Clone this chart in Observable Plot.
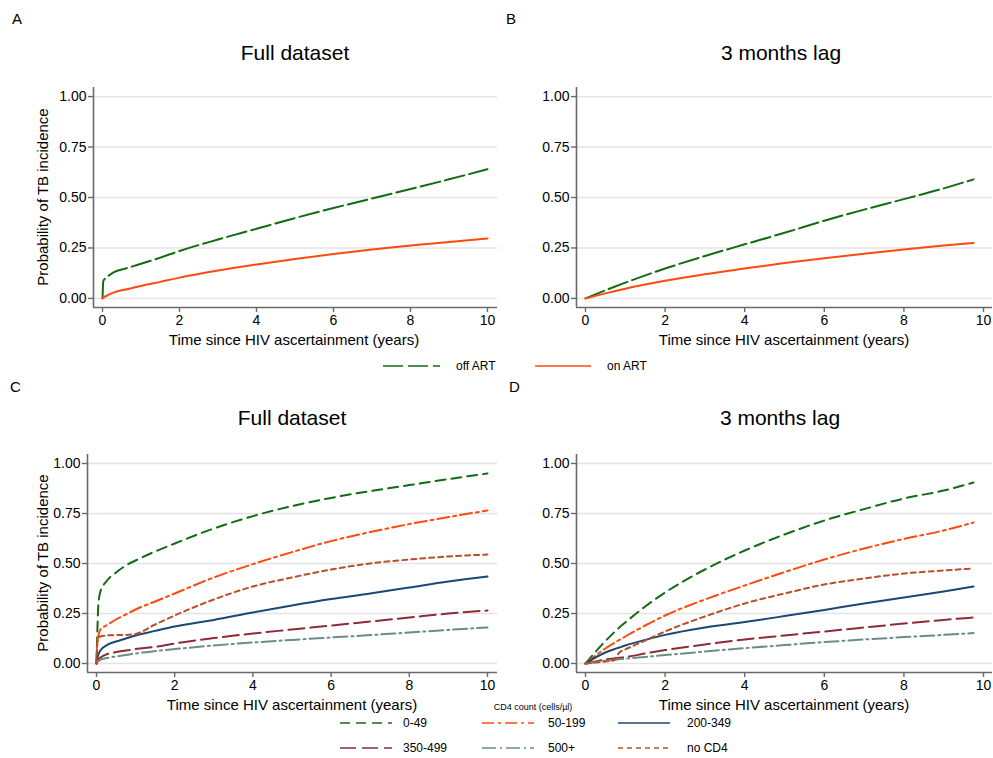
<!DOCTYPE html>
<html><head><meta charset="utf-8">
<script src="https://cdn.jsdelivr.net/npm/d3@7"></script>
<script src="https://cdn.jsdelivr.net/npm/@observablehq/plot@0.6"></script>
<style>
body{margin:0;background:#fff;font-family:"Liberation Sans",Arial,sans-serif;}
#wrap{position:relative;width:993px;height:758px;overflow:hidden;background:#fff;}
.abs{position:absolute;white-space:nowrap;line-height:1;color:#000;}
.title{font-size:21px;transform:translate(-50%,-50%);}
.letter{font-size:15px;}
.xl{font-size:15px;transform:translate(-50%,-50%);}
.yl{font-size:15px;transform:translate(-50%,-50%) rotate(-90deg);}
svg{overflow:visible;}
</style></head><body><div id="wrap"></div>
<script>
// ---------- data ----------
const yTicks = [0, 0.25, 0.5, 0.75, 1];
const xTicks = [0, 2, 4, 6, 8, 10];
const panelLetters = ["A", "B", "C", "D"];
const panelTitles = ["Full dataset", "3 months lag", "Full dataset", "3 months lag"];
const xLabel = "Time since HIV ascertainment (years)";
const yLabel = "Probability of TB incidence";
const artLabels = ["off ART", "on ART"];
const cd4Labels = ["0-49", "50-199", "200-349", "350-499", "500+", "no CD4"];
const cd4Title = "CD4 count (cells/µl)";

// Panel A: full dataset, ART
const timeA  = [0, 0.02, 0.05, 0.1, 0.2, 0.3, 0.6, 1, 1.5, 2, 3, 4, 5, 6, 7, 8, 9, 10];
const offArtA = [0, 0.085, 0.095, 0.105, 0.118, 0.13, 0.148, 0.172, 0.202, 0.235, 0.292, 0.345, 0.398, 0.448, 0.495, 0.542, 0.59, 0.64];
const onArtA  = [0, 0.004, 0.008, 0.012, 0.022, 0.03, 0.044, 0.062, 0.082, 0.103, 0.138, 0.168, 0.195, 0.22, 0.242, 0.262, 0.28, 0.297];

// Panel B: 3 months lag, ART
const timeB  = [0, 0.5, 1, 2, 3, 4, 5, 6, 7, 8, 9, 9.75];
const offArtB = [0, 0.04, 0.078, 0.148, 0.21, 0.268, 0.325, 0.385, 0.44, 0.492, 0.545, 0.59];
const onArtB  = [0, 0.025, 0.048, 0.087, 0.12, 0.148, 0.175, 0.199, 0.221, 0.242, 0.262, 0.275];

// Panel C: full dataset, CD4
const timeC   = [0, 0.02, 0.05, 0.1, 0.25, 0.5, 0.75, 1, 1.5, 2, 3, 4, 5, 6, 7, 8, 9, 10];
const cd4_0_49C   = [0, 0.15, 0.3, 0.36, 0.41, 0.455, 0.49, 0.515, 0.56, 0.6, 0.675, 0.737, 0.787, 0.828, 0.862, 0.892, 0.922, 0.95];
const cd4_50_199C = [0, 0.1, 0.14, 0.17, 0.19, 0.22, 0.245, 0.27, 0.31, 0.35, 0.43, 0.497, 0.557, 0.612, 0.657, 0.697, 0.732, 0.765];
const cd4_200_349C= [0, 0.025, 0.045, 0.065, 0.09, 0.11, 0.125, 0.14, 0.163, 0.185, 0.218, 0.255, 0.29, 0.322, 0.35, 0.38, 0.41, 0.435];
const cd4_350_499C= [0, 0.015, 0.022, 0.03, 0.045, 0.057, 0.065, 0.072, 0.083, 0.1, 0.127, 0.15, 0.17, 0.19, 0.21, 0.23, 0.25, 0.265];
const cd4_500C    = [0, 0.008, 0.012, 0.02, 0.027, 0.035, 0.042, 0.05, 0.062, 0.072, 0.09, 0.105, 0.118, 0.13, 0.142, 0.155, 0.168, 0.18];
const cd4_noneC   = [0, 0.1, 0.125, 0.135, 0.14, 0.142, 0.143, 0.148, 0.195, 0.24, 0.32, 0.385, 0.43, 0.47, 0.5, 0.52, 0.535, 0.545];

// Panel D: 3 months lag, CD4
const timeD   = [0, 0.25, 0.5, 0.7, 0.85, 1, 1.5, 2, 3, 4, 5, 6, 7, 8, 9, 9.75];
const cd4_0_49D   = [0, 0.058, 0.112, 0.152, 0.18, 0.205, 0.285, 0.355, 0.47, 0.565, 0.645, 0.715, 0.772, 0.825, 0.865, 0.905];
const cd4_50_199D = [0, 0.04, 0.075, 0.1, 0.118, 0.135, 0.19, 0.24, 0.32, 0.39, 0.457, 0.52, 0.575, 0.623, 0.665, 0.705];
const cd4_200_349D= [0, 0.03, 0.055, 0.07, 0.08, 0.09, 0.118, 0.143, 0.18, 0.207, 0.237, 0.268, 0.3, 0.33, 0.36, 0.385];
const cd4_350_499D= [0, 0.01, 0.02, 0.025, 0.029, 0.032, 0.05, 0.067, 0.095, 0.12, 0.14, 0.16, 0.18, 0.2, 0.218, 0.23];
const cd4_500D    = [0, 0.008, 0.014, 0.018, 0.021, 0.024, 0.033, 0.042, 0.06, 0.077, 0.092, 0.107, 0.12, 0.132, 0.143, 0.152];
const cd4_noneD   = [0, 0.005, 0.01, 0.015, 0.055, 0.07, 0.115, 0.16, 0.235, 0.3, 0.35, 0.395, 0.425, 0.45, 0.465, 0.475];

// ---------- styles ----------
const styleMap = {
  "off ART": {stroke: "#136b13", dash: "20 5"},
  "on ART":  {stroke: "#ff4a0f", dash: null},
  "0-49":    {stroke: "#136b13", dash: "10 6"},
  "50-199":  {stroke: "#ff4a0f", dash: "12 4 3 4"},
  "200-349": {stroke: "#1a4872", dash: null},
  "350-499": {stroke: "#8e2b36", dash: "16 6"},
  "500+":    {stroke: "#6a8e80", dash: "14 4 2 4"},
  "no CD4":  {stroke: "#b5502a", dash: "5 4"}
};
const axisColor = "#6a6a6a";

const wrap = document.getElementById("wrap");
function addText(cls, txt, x, y) {
  const d = document.createElement("div");
  d.className = "abs " + cls;
  d.textContent = txt;
  d.style.left = x + "px";
  d.style.top = y + "px";
  wrap.appendChild(d);
}

function panel(cfg, times, seriesLabels, seriesValues) {
  const rows = seriesLabels.flatMap((k, j) => times.map((t, i) => ({t, v: seriesValues[j][i], key: k})));
  const chart = Plot.plot({
    width: cfg.width, height: cfg.height,
    marginLeft: cfg.ml, marginRight: cfg.mr, marginTop: cfg.mt, marginBottom: cfg.mb,
    style: {fontFamily: "'Liberation Sans', Arial, sans-serif", fontSize: "14px", color: "#000", background: "transparent"},
    x: {domain: cfg.xd},
    y: {domain: cfg.yd},
    marks: [
      Plot.gridY(yTicks, {stroke: "#e3e3e3", strokeOpacity: 1, strokeWidth: 1.4}),
      Plot.ruleX([cfg.xd[0]], {stroke: axisColor, strokeWidth: 1.6}),
      Plot.ruleY([cfg.yd[0]], {stroke: axisColor, strokeWidth: 1.6}),
      Plot.axisY(yTicks, {tickFormat: d3.format(".2f"), tickSize: 5, tickPadding: 2, stroke: axisColor, strokeWidth: 1.4, fill: "#000", label: null, fontSize: 14}),
      Plot.axisX(xTicks, {tickSize: 5, tickPadding: 3, stroke: axisColor, strokeWidth: 1.4, fill: "#000", label: null, fontSize: 14}),
      ...seriesLabels.map(k => Plot.line(rows.filter(r => r.key === k), {
        x: "t", y: "v", stroke: styleMap[k].stroke, strokeWidth: 2,
        strokeDasharray: styleMap[k].dash, curve: "monotone-x"
      }))
    ]
  });
  chart.style.position = "absolute";
  chart.style.left = cfg.left + "px";
  chart.style.top = cfg.top + "px";
  wrap.appendChild(chart);
}

const yDom = [-0.045, 1.045];
const cfgA = {left: 0, top: 80, width: 500, height: 280, ml: 93, mr: 3, mt: 7, mb: 53, xd: [-0.234, 10.26], yd: yDom};
const cfgB = {left: 493, top: 80, width: 500, height: 280, ml: 83, mr: 1, mt: 7, mb: 53, xd: [-0.226, 10.226], yd: yDom};
const cfgC = {left: 0, top: 445, width: 500, height: 280, ml: 87, mr: 3, mt: 9, mb: 53, xd: [-0.23, 10.256], yd: yDom};
const cfgD = {left: 493, top: 445, width: 500, height: 280, ml: 83, mr: 1, mt: 9, mb: 53, xd: [-0.226, 10.226], yd: yDom};

panel(cfgA, timeA, artLabels, [offArtA, onArtA]);
panel(cfgB, timeB, artLabels, [offArtB, onArtB]);
panel(cfgC, timeC, cd4Labels, [cd4_0_49C, cd4_50_199C, cd4_200_349C, cd4_350_499C, cd4_500C, cd4_noneC]);
panel(cfgD, timeD, cd4Labels, [cd4_0_49D, cd4_50_199D, cd4_200_349D, cd4_350_499D, cd4_500D, cd4_noneD]);

// letters & titles & axis labels
addText("letter", panelLetters[0], 12, 11);
addText("letter", panelLetters[1], 506, 11);
addText("letter", panelLetters[2], 10, 379);
addText("letter", panelLetters[3], 509, 379);
addText("title", panelTitles[0], 295, 52);
addText("title", panelTitles[1], 781, 52);
addText("title", panelTitles[2], 292, 417);
addText("title", panelTitles[3], 780, 417);
addText("xl", xLabel, 294, 339);
addText("xl", xLabel, 784, 339);
addText("xl", xLabel, 292, 704);
addText("xl", xLabel, 784, 704);
addText("yl", yLabel, 42, 197);
addText("yl", yLabel, 42, 563);

// legends
const leg = d3.create("svg").attr("width", 993).attr("height", 758)
  .style("position", "absolute").style("left", "0px").style("top", "0px")
  .style("font-family", "'Liberation Sans', Arial, sans-serif");
function legendItem(label, x1, x2, tx, y) {
  leg.append("line").attr("x1", x1).attr("x2", x2).attr("y1", y).attr("y2", y)
    .attr("stroke", styleMap[label].stroke).attr("stroke-width", 1.5)
    .attr("stroke-dasharray", styleMap[label].dash);
  leg.append("text").attr("x", tx).attr("y", y).attr("dy", "0.35em")
    .attr("font-size", 12).attr("fill", "#000").text(label);
}
legendItem(artLabels[0], 383, 440, 456, 366);
legendItem(artLabels[1], 535, 591, 607, 366);
const colX = [340, 482, 618], colT = [403, 548, 687], rowY = [723, 748];
cd4Labels.forEach((k, i) => {
  const c = i % 3, r = Math.floor(i / 3);
  legendItem(k, colX[c], colX[c] + 52, colT[c], rowY[r]);
});
leg.append("text").attr("x", 533).attr("y", 707).attr("dy", "0.35em").attr("text-anchor", "middle")
  .attr("font-size", 9).attr("fill", "#000").text(cd4Title);
wrap.appendChild(leg.node());
</script>
</body></html>
